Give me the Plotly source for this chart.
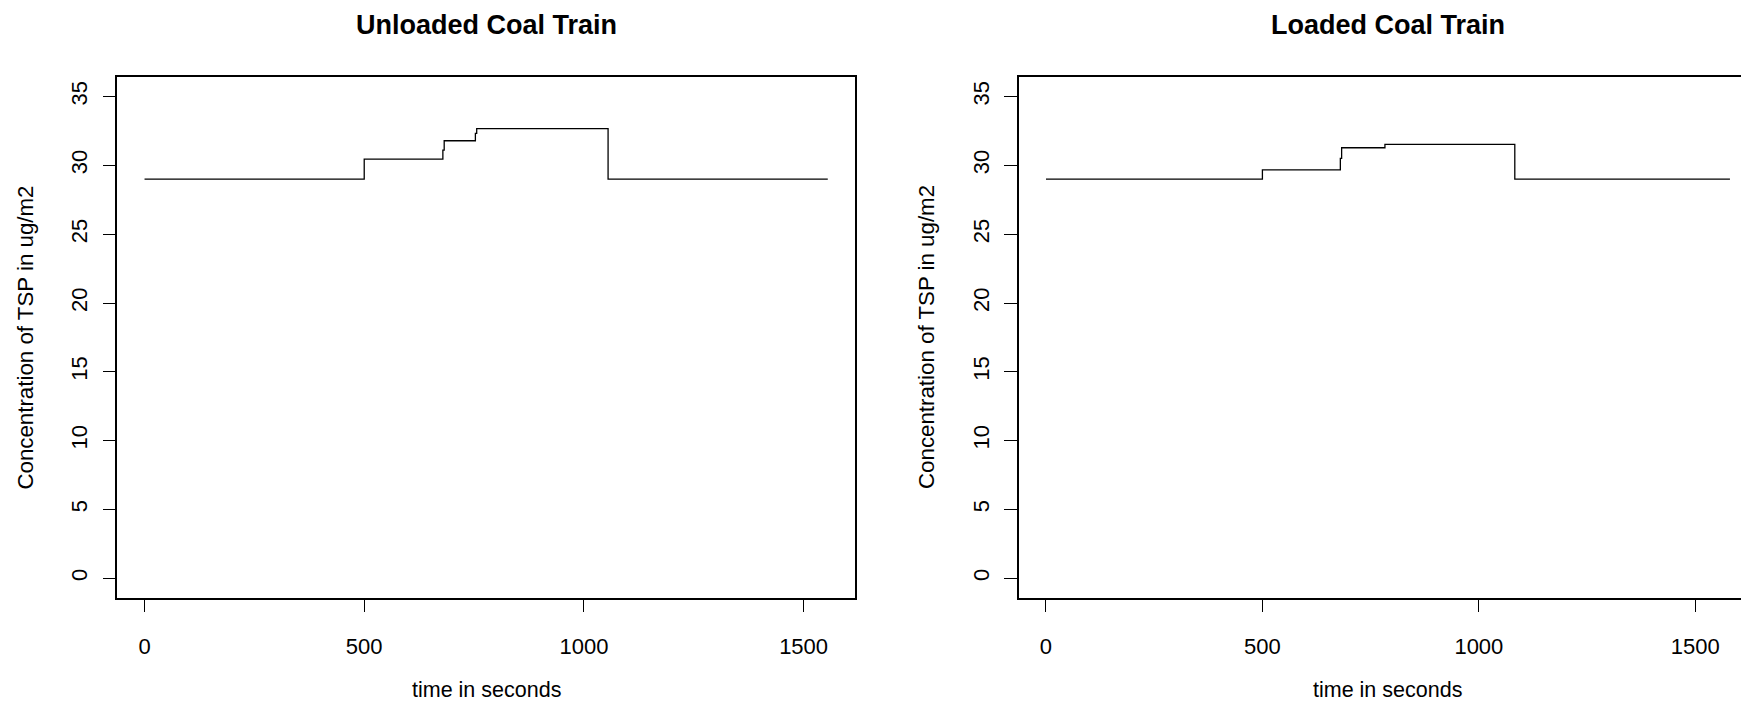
import plotly.graph_objects as go

# ---- data ----
unloaded_time = [0, 500, 679, 682, 753, 756, 1055, 1555]
unloaded_conc = [29.0, 30.46, 31.11, 31.79, 32.33, 32.67, 29.0, 29.0]

loaded_time = [0, 500, 680, 683, 783, 1083, 1580]
loaded_conc = [29.0, 29.68, 30.51, 31.28, 31.53, 29.0, 29.0]

x_ticks = [0, 500, 1000, 1500]
y_ticks = [0, 5, 10, 15, 20, 25, 30, 35]

titles = ["Unloaded Coal Train", "Loaded Coal Train"]
x_title = "time in seconds"
y_title = "Concentration of TSP in ug/m2"

# The page body has an 8px default margin; the figure is sized so that
# page pixel p maps to figure pixel p - OFF.
OFF = 8
PW, PH = 1749, 704
W, H = PW - OFF, PH - OFF
FONT = "Liberation Sans, Arial, sans-serif"
BASE = 22


def px(p):
    return (p - OFF) / W


def py(p):
    return 1 - (p - OFF) / H


fig = go.Figure()
fig.add_trace(go.Scatter(x=unloaded_time, y=unloaded_conc, mode="lines",
                         line=dict(color="black", width=1.3, shape="hv"),
                         xaxis="x", yaxis="y", showlegend=False))
fig.add_trace(go.Scatter(x=loaded_time, y=loaded_conc, mode="lines",
                         line=dict(color="black", width=1.3, shape="hv"),
                         xaxis="x2", yaxis="y2", showlegend=False))

# page-pixel geometry of the plot frames
L1, R1 = 117.2, 855.1
L2, R2 = 1018.6, 1749.0
TOP, BOT = 77.3, 597.5
ydom = [py(BOT), py(TOP)]

common_x = dict(tickmode="array", tickvals=x_ticks, ticks="outside", ticklen=12.5,
                tickwidth=1.3, tickcolor="black", showgrid=False, zeroline=False,
                showline=True, linecolor="black", linewidth=1.5, mirror=True,
                tickfont=dict(family=FONT, size=BASE, color="black"),
                ticklabelstandoff=16)
common_y = dict(tickmode="array", tickvals=y_ticks, ticks="outside", ticklen=12.5,
                tickwidth=1.3, tickcolor="black", showgrid=False, zeroline=False,
                showline=True, linecolor="black", linewidth=1.5,
                tickangle=-90, range=[-1.4, 36.4], domain=ydom,
                tickfont=dict(family=FONT, size=BASE, color="black"),
                ticklabelstandoff=7)

fig.update_layout(
    width=W, height=H, autosize=False,
    margin=dict(l=0, r=0, t=0, b=0),
    paper_bgcolor="white", plot_bgcolor="white",
    xaxis=dict(common_x, domain=[px(L1), px(R1)], range=[-62.2, 1617.2], anchor="y"),
    yaxis=dict(common_y, mirror=True, anchor="x"),
    xaxis2=dict(common_x, domain=[px(L2), min(1.0, px(R2))], range=[-63.2, 1624.0], anchor="y2"),
    yaxis2=dict(common_y, mirror=False, anchor="x2"),
)

ann = []
for cx, t in [((L1 + R1) / 2, titles[0]), ((L2 + 1757) / 2, titles[1])]:
    ann.append(dict(x=px(cx), y=py(25), xref="paper", yref="paper", text="<b>%s</b>" % t,
                    showarrow=False, xanchor="center", yanchor="middle",
                    font=dict(family=FONT, size=27, color="black")))
    ann.append(dict(x=px(cx), y=py(690), xref="paper", yref="paper", text=x_title,
                    showarrow=False, xanchor="center", yanchor="middle",
                    font=dict(family=FONT, size=21.5, color="black")))
for lx in [L1, L2]:
    ann.append(dict(x=px(lx - 92), y=sum(ydom) / 2, xref="paper", yref="paper", text=y_title,
                    textangle=-90, showarrow=False, xanchor="center", yanchor="middle",
                    font=dict(family=FONT, size=22.3, color="black")))
fig.update_layout(annotations=ann)

fig.write_html("out.html")
